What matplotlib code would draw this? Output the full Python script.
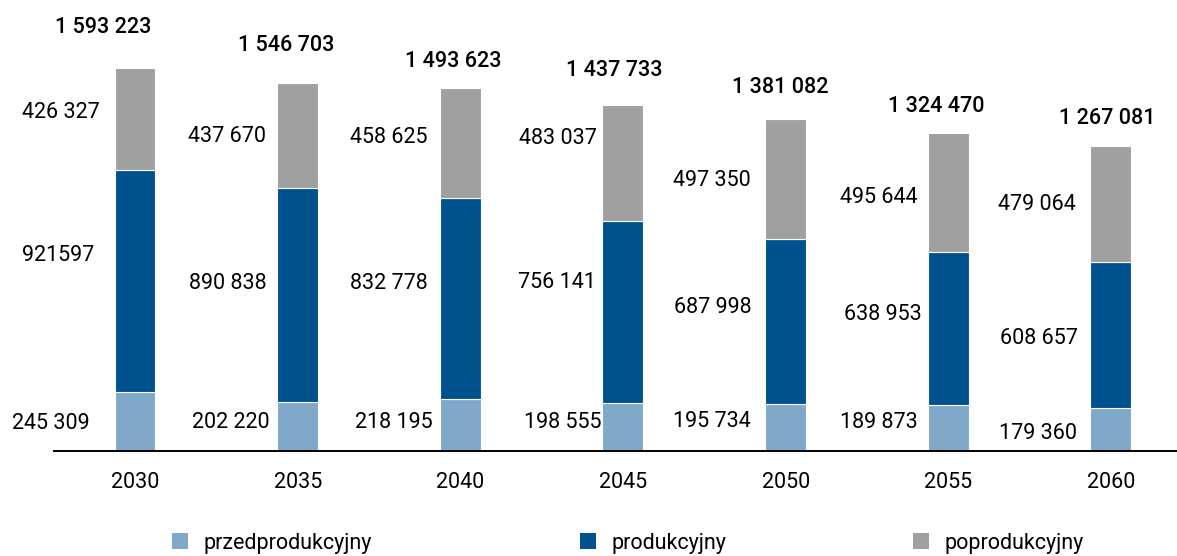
import matplotlib.pyplot as plt
import numpy as np
from matplotlib.patches import Patch

plt.rcParams['font.family'] = ['Roboto', 'DejaVu Sans']

years = ['2030', '2035', '2040', '2045', '2050', '2055', '2060']
przed = [245309, 202220, 218195, 198555, 195734, 189873, 179360]
prod = [921597, 890838, 832778, 756141, 687998, 638953, 608657]
poprod = [426327, 437670, 458625, 483037, 497350, 495644, 479064]
totals = [1593223, 1546703, 1493623, 1437733, 1381082, 1324470, 1267081]
seg_labels = [
    ['245 309', '202 220', '218 195', '198 555', '195 734', '189 873', '179 360'],
    ['921597', '890 838', '832 778', '756 141', '687 998', '638 953', '608 657'],
    ['426 327', '437 670', '458 625', '483 037', '497 350', '495 644', '479 064'],
]
total_labels = ['1 593 223', '1 546 703', '1 493 623', '1 437 733',
                '1 381 082', '1 324 470', '1 267 081']
names = ['przedprodukcyjny', 'produkcyjny', 'poprodukcyjny']
colors = ['#80a9c9', '#00528f', '#a0a0a0']

# hand placement of the labels, in pixels (gap left of bar, shift from segment centre)
lab_gap = [[25, 8, 7, 1, 14, 10, 13],
           [20, 11, 12, 7, 14, 6, 13],
           [15, 11, 12, 6, 14, 10, 15]]
lab_dy = [[1.5, -3.7, -1.8, -4.2, -5.5, -5.2, 3.6],
          [-26, -12.3, -15.4, -29.4, -14.2, -13.6, 3.3],
          [-7, 1.3, -6.2, -25.4, 1.3, 5.8, 1]]
tot_dx = [-32, -11, -7, -9, -5, -12, -4]
tot_dy = [41, 34, 30, 35, 31, 26, 28]
px = 0.72  # points per pixel at dpi 100

fig = plt.figure(figsize=(11.77, 5.56), dpi=100)
ax = fig.add_axes([54 / 1177, (556 - 451) / 556, (1177 - 54) / 1177, 451 / 556])

x = np.arange(len(years))
w = 0.252
bottom = np.zeros(len(years))
for j, (vals, col, labs) in enumerate(zip([przed, prod, poprod], colors, seg_labels)):
    vals = np.array(vals)
    ax.bar(x, vals, w, bottom=bottom, color=col, edgecolor='white', linewidth=0.8)
    for i in range(len(x)):
        ax.annotate(labs[i], (x[i] - w / 2, bottom[i] + vals[i] / 2),
                    xytext=(-lab_gap[j][i] * px, -lab_dy[j][i] * px),
                    textcoords='offset points', ha='right', va='center',
                    fontsize=15.5)
    bottom += vals

for i in range(len(x)):
    ax.annotate(total_labels[i], (x[i], totals[i]),
                xytext=(tot_dx[i] * px, tot_dy[i] * px), textcoords='offset points',
                ha='center', va='center', fontsize=15.5, fontweight='medium')

ax.set_xlim(-0.498, 6.406)
ax.set_ylim(0, 1876100)
for s in ['top', 'right', 'left']:
    ax.spines[s].set_visible(False)
ax.spines['bottom'].set_linewidth(1.4)
ax.set_yticks([])
ax.set_xticks(x)
ax.set_xticklabels(years, fontsize=15.5)
ax.tick_params(axis='x', length=0, pad=15)

leg_x = [172 / 1177, 580 / 1177, 913 / 1177]
for name, col, lx in zip(names, colors, leg_x):
    fig.legend(handles=[Patch(facecolor=col, label=name)], loc='center left',
               bbox_to_anchor=(lx, (556 - 543) / 556), frameon=False,
               fontsize=15.5, handlelength=0.75, handleheight=0.75,
               handletextpad=0.7, borderaxespad=0, borderpad=0)

fig.savefig('out.png', dpi=100)
